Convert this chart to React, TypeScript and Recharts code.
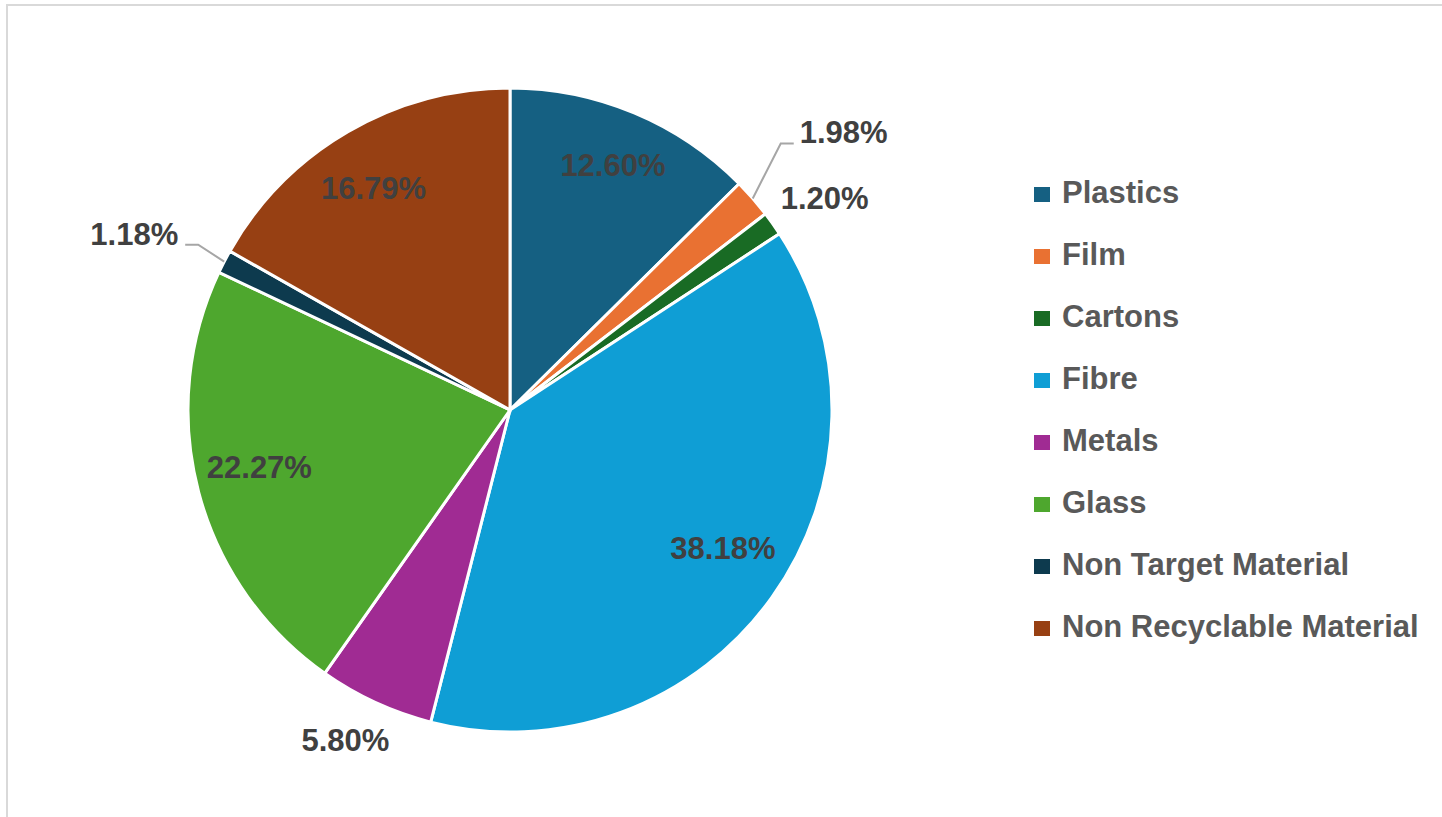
import React from 'react';
import { PieChart, Pie, Legend } from 'recharts';

const categories = [
  'Plastics',
  'Film',
  'Cartons',
  'Fibre',
  'Metals',
  'Glass',
  'Non Target Material',
  'Non Recyclable Material',
];
const shares = [12.6, 1.98, 1.2, 38.18, 5.8, 22.27, 1.18, 16.79];
const colors = ['#156082', '#E97132', '#196B24', '#0F9ED5', '#A02B93', '#4EA72E', '#0D3A4E', '#974013'];

type LabelMode = 'inside' | 'outside' | 'leader';
const labelModes: LabelMode[] = ['inside', 'leader', 'outside', 'inside', 'outside', 'inside', 'leader', 'inside'];
const labelNudges: [number, number][] = [
  [3, -6],
  [0, 0],
  [52, -15],
  [2, -13],
  [-30, 48],
  [0, -9],
  [0, 0],
  [-6, 2],
];
const leaderElbows: [number, number][] = [
  [0, 0],
  [28, -55],
  [0, 0],
  [0, 0],
  [0, 0],
  [0, 0],
  [-26, -17],
  [0, 0],
];

const FONT = '"Liberation Sans", Arial, sans-serif';
const RAD = Math.PI / 180;

const data = categories.map((name, i) => ({ name, value: shares[i], fill: colors[i] }));

const textStyle = {
  fontFamily: FONT,
  fontWeight: 700,
  fontSize: 31,
  fill: '#404040',
};

function renderLabel(props: any) {
  const { cx, cy, midAngle, outerRadius, index, value } = props;
  const text = `${Number(value).toFixed(2)}%`;
  const cos = Math.cos(-midAngle * RAD);
  const sin = Math.sin(-midAngle * RAD);
  const mode = labelModes[index];
  const [nx, ny] = labelNudges[index];
  if (mode === 'inside') {
    const r = outerRadius * 0.805;
    const x = cx + r * cos + nx;
    const y = cy + r * sin + ny;
    return (
      <text key={`l${index}`} x={x} y={y + 11} textAnchor="middle" {...textStyle}>
        {text}
      </text>
    );
  }
  const ex = cx + outerRadius * cos;
  const ey = cy + outerRadius * sin;
  if (mode === 'outside') {
    return (
      <text key={`l${index}`} x={ex + nx} y={ey + ny} textAnchor="middle" {...textStyle}>
        {text}
      </text>
    );
  }
  const [dx, dy] = leaderElbows[index];
  const bx = ex + dx;
  const by = ey + dy;
  const right = dx > 0;
  const tx = bx + (right ? 13 : -13);
  return (
    <g key={`l${index}`}>
      <polyline
        points={`${ex},${ey} ${bx},${by} ${tx},${by}`}
        stroke="#A6A6A6"
        strokeWidth={2}
        fill="none"
      />
      <text x={tx + (right ? 6 : -7)} y={by} textAnchor={right ? 'start' : 'end'} {...textStyle}>
        {text}
      </text>
    </g>
  );
}

const LegendContent = () => (
  <div style={{ display: 'flex', flexDirection: 'column' }}>
    {categories.map((c, i) => (
      <div key={c} style={{ display: 'flex', alignItems: 'center', height: 62 }}>
        <span
          style={{
            display: 'inline-block',
            width: 16,
            height: 15,
            background: colors[i],
            marginRight: 12,
            marginTop: 5,
          }}
        />
        <span
          style={{
            fontFamily: FONT,
            fontWeight: 700,
            fontSize: 31,
            lineHeight: 1,
            color: '#595959',
            whiteSpace: 'nowrap',
          }}
        >
          {c}
        </span>
      </div>
    ))}
  </div>
);

export default function App() {
  return (
    <div
      style={{
        position: 'fixed',
        left: 0,
        top: 0,
        width: 1442,
        height: 817,
        overflow: 'hidden',
        background: '#fff',
      }}
    >
      <div
        style={{
          position: 'absolute',
          left: 6,
          top: 4,
          width: 1500,
          height: 900,
          border: '2px solid #D9D9D9',
          boxSizing: 'border-box',
        }}
      />
      <div style={{ position: 'absolute', left: 0, top: 0 }}>
        <PieChart width={1442} height={817} margin={{ top: 0, right: 0, bottom: 0, left: 0 }}>
          <Pie
            data={data}
            dataKey="value"
            nameKey="name"
            cx={510}
            cy={410}
            outerRadius={322}
            startAngle={90}
            endAngle={-270}
            stroke="#FFFFFF"
            strokeWidth={3}
            label={renderLabel}
            labelLine={false}
            isAnimationActive={false}
          />
          <Legend
            content={<LegendContent />}
            wrapperStyle={{ position: 'absolute', left: 1034, top: 161, width: 'auto', height: 'auto' }}
          />
        </PieChart>
      </div>
    </div>
  );
}
